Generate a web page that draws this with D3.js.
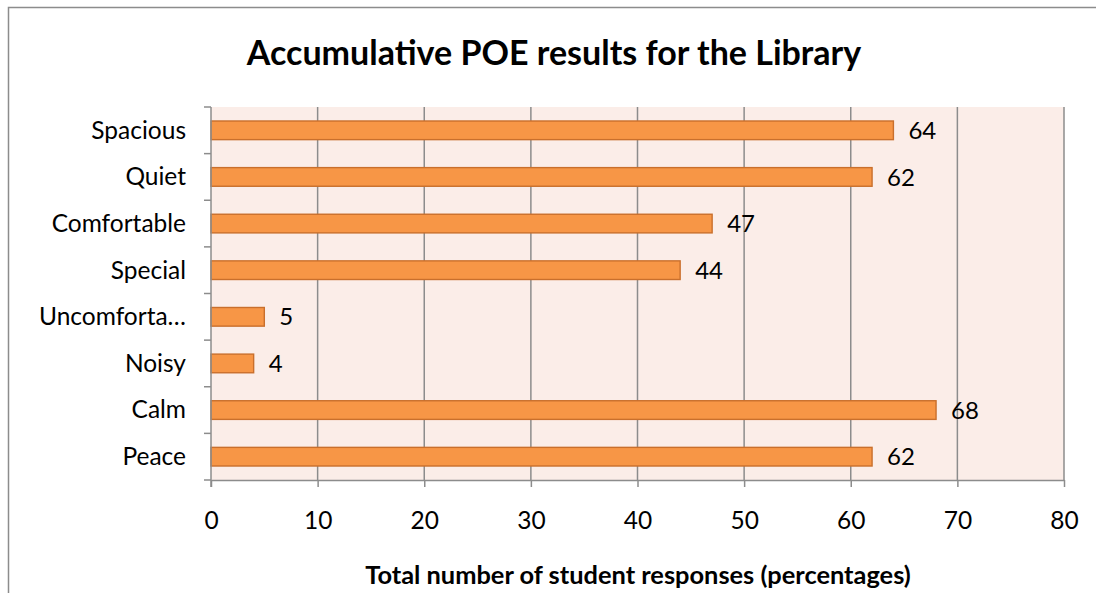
<!DOCTYPE html>
<html><head><meta charset="utf-8">
<script src="https://cdn.jsdelivr.net/npm/d3@7"></script>
<style>body{margin:0;background:#fff}svg{display:block}</style>
</head><body>
<svg id="c" width="1096" height="593"></svg>
<script>
const categories = ["Spacious","Quiet","Comfortable","Special","Uncomforta…","Noisy","Calm","Peace"];
const values = [64,62,47,44,5,4,68,62];
const xTicks = [0,10,20,30,40,50,60,70,80];
const titleText = "Accumulative POE results for the Library";
const xTitleText = "Total number of student responses (percentages)";

const svg = d3.select("#c");
const font = "Lato, 'Open Sans', sans-serif";
const L = 211, R = 1064, T = 107, B = 480;

// outer border
svg.append("path").attr("d","M8.5,593 L8.5,7.5 L1096,7.5").attr("fill","none").attr("stroke","#8c8c8c").attr("stroke-width",1.5);

const x = d3.scaleLinear().domain([0,80]).range([L,R]);
const y = d3.scaleBand().domain(categories).range([T,B]).paddingInner(0.6).paddingOuter(0.3);
const yb = d3.scaleBand().domain(categories).range([T,B]);

svg.append("rect").attr("x",L).attr("y",T).attr("width",R-L).attr("height",B-T).attr("fill","#fbede8");

// gridlines
svg.append("g").selectAll("line").data(xTicks.slice(1)).join("line")
  .attr("x1",d=>x(d)).attr("x2",d=>x(d)).attr("y1",T).attr("y2",B)
  .attr("stroke","#8c8c8c").attr("stroke-width",1.5);

// bars
svg.append("g").selectAll("rect").data(values).join("rect")
  .attr("x",x(0)).attr("y",(d,i)=>y(categories[i])).attr("width",d=>x(d)-x(0)).attr("height",y.bandwidth())
  .attr("fill","#f79646").attr("stroke","#c96f2c").attr("stroke-width",1.4);

// value labels
svg.append("g").selectAll("text").data(values).join("text")
  .attr("x",d=>x(d)+15).attr("y",(d,i)=>y(categories[i])+y.bandwidth()/2)
  .attr("dy","0.36em").attr("font-family",font).attr("font-size",24).attr("fill","#000").text(d=>d);

// x axis
const xa = svg.append("g").attr("transform",`translate(0,${B})`)
  .call(d3.axisBottom(x).tickValues(xTicks).tickSize(7).tickPadding(25).tickSizeOuter(0));
xa.select(".domain").attr("stroke","#8c8c8c").attr("stroke-width",1.5);
xa.selectAll(".tick line").attr("stroke","#8c8c8c").attr("stroke-width",1.5);
xa.selectAll("text").attr("font-family",font).attr("font-size",24.5).attr("fill","#000");

// y axis (ticks at band boundaries)
const boundaries = categories.map(c=>yb(c)).concat([B]);
svg.append("line").attr("x1",L).attr("x2",L).attr("y1",T).attr("y2",B+7).attr("stroke","#8c8c8c").attr("stroke-width",1.5);
svg.append("g").selectAll("line").data(boundaries).join("line")
  .attr("x1",L-7).attr("x2",L).attr("y1",d=>d).attr("y2",d=>d).attr("stroke","#8c8c8c").attr("stroke-width",1.5);
svg.append("g").selectAll("text").data(categories).join("text")
  .attr("x",186).attr("y",d=>yb(d)+yb.bandwidth()/2).attr("dy","0.34em").attr("text-anchor","end")
  .attr("font-family",font).attr("font-size",24.5).attr("fill","#000").text(d=>d);

// titles
svg.append("text").attr("x",554).attr("y",65).attr("text-anchor","middle").attr("font-family",font)
  .attr("font-weight","bold").attr("font-size",34).attr("fill","#000").text(titleText);
svg.append("text").attr("x",638).attr("y",584).attr("text-anchor","middle").attr("font-family",font)
  .attr("font-weight","bold").attr("font-size",25.4).attr("fill","#000").text(xTitleText);
</script>
</body></html>
